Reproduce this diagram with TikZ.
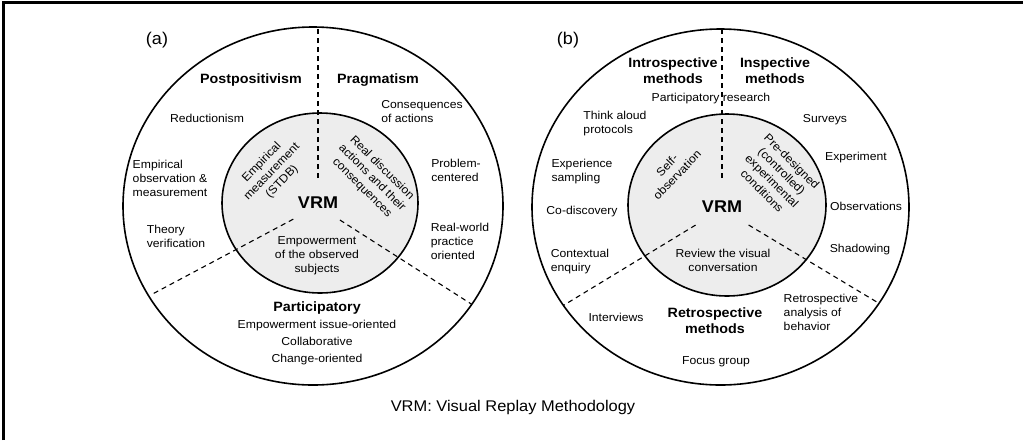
\documentclass[tikz,border=0pt]{standalone}
\usepackage{fontspec}
\setmainfont{Liberation Sans}[FakeStretch=1.06]
\definecolor{innergrey}{HTML}{EDEDED}
\begin{document}
\begin{tikzpicture}[x=1pt, y=1pt,
    txt/.style={font=\fontsize{11.5}{14}\selectfont, align=left, inner sep=0pt},
    ctr/.style={txt, align=center},
    head/.style={font=\fontsize{13.5}{16}\selectfont\bfseries, align=center, inner sep=0pt},
    vrm/.style={font=\fontsize{17}{20}\selectfont\bfseries, inner sep=0pt},
    panel/.style={font=\fontsize{17}{20}\selectfont, inner sep=0pt},
    ring/.style={line width=1.6pt},
    divider/.style={dash pattern=on 5pt off 4pt, line width=1.1pt}]
  \useasboundingbox (0,0) rectangle (1023,-440);
  \draw[line width=3pt] (3,-440) -- (3,-2) -- (1023,-2);

  % (a)
  \node[panel] (lbla) at (157,-40) {(a)};
  \draw[ring] (313,-206) ellipse [x radius=190pt, y radius=179pt];
  \draw[ring, fill=innergrey] (320,-203) ellipse [x radius=98pt, y radius=90pt];
  \coordinate (ca) at (318,-206);
  \coordinate (ta1) at (318,-27);
  \path (ca) ++(90:28pt) coordinate (ta0);
  \path (ca) ++(208:28pt) coordinate (la0) (ca) ++(208:189pt) coordinate (la1);
  \path (ca) ++(-32.6:26pt) coordinate (ra0) (ca) ++(-32.6:182pt) coordinate (ra1);
  \draw[divider] (ta0) -- (ta1);
  \draw[divider] (la0) -- (la1);
  \draw[divider] (ra0) -- (ra1);
  \node[head] (post) at (251,-80) {Postpositivism};
  \node[head] (prag) at (378,-80) {Pragmatism};
  \node[txt] (reduc) at (207,-118) {Reductionism};
  \node[txt] (conseq) at (422,-112) {Consequences\\of actions};
  \node[txt] (empobs) at (170,-178) {Empirical\\observation \&\\measurement};
  \node[txt] (theory) at (176,-236) {Theory\\verification};
  \node[txt] (problem) at (456,-170) {Problem-\\centered};
  \node[txt] (realw) at (460,-241) {Real-world\\practice\\oriented};
  \node[ctr, rotate=46] (empmeas) at (272,-172) {Empirical\\measurement\\(STDB)};
  \node[ctr, rotate=-45] (realdisc) at (372,-178) {Real discussion\\actions and their\\consequences};
  \node[vrm] (vrma) at (318,-203) {VRM};
  \node[ctr] (empow) at (317,-256) {Empowerment\\of the observed\\subjects};
  \node[head] (partic) at (317,-308) {Participatory};
  \node[ctr, font=\fontsize{11.5}{17}\selectfont] (partlist) at (317,-343)
    {Empowerment issue-oriented\\Collaborative\\Change-oriented};

  % (b)
  \node[panel] (lblb) at (568,-40) {(b)};
  \draw[ring] (720.5,-207) ellipse [x radius=188.5pt, y radius=178pt];
  \draw[ring, fill=innergrey] (727,-205) ellipse [x radius=99pt, y radius=91pt];
  \coordinate (cb) at (722,-209);
  \coordinate (tb1) at (722,-29);
  \path (cb) ++(90:31pt) coordinate (tb0);
  \path (cb) ++(211.3:31pt) coordinate (lb0) (cb) ++(211.3:185.6pt) coordinate (lb1);
  \path (cb) ++(-31:31pt) coordinate (rb0) (cb) ++(-31:183.4pt) coordinate (rb1);
  \draw[divider] (tb0) -- (tb1);
  \draw[divider] (lb0) -- (lb1);
  \draw[divider] (rb0) -- (rb1);
  \node[head] (intro) at (673,-71) {Introspective\\methods};
  \node[head] (insp) at (775,-71) {Inspective\\methods};
  \node[txt] (partres) at (711,-99) {Participatory research};
  \node[txt] (think) at (615,-124) {Think aloud\\protocols};
  \node[txt] (surv) at (825,-120) {Surveys};
  \node[txt] (exper) at (856,-158) {Experiment};
  \node[txt] (sampl) at (582,-172) {Experience\\sampling};
  \node[txt] (codisc) at (582,-212) {Co-discovery};
  \node[txt] (context) at (580,-262) {Contextual\\enquiry};
  \node[txt] (observ) at (866,-206) {Observations};
  \node[txt] (shadow) at (860,-250) {Shadowing};
  \node[ctr, rotate=46] (selfobs) at (672,-170) {Self-\\observation};
  \node[ctr, rotate=-45] (predes) at (777,-176) {Pre-designed\\(controlled)\\experimental\\conditions};
  \node[vrm] (vrmb) at (722,-207) {VRM};
  \node[ctr] (review) at (723,-260) {Review the visual\\conversation};
  \node[head] (retro) at (715,-321) {Retrospective\\methods};
  \node[txt] (interv) at (616,-317) {Interviews};
  \node[txt] (retana) at (821,-312) {Retrospective\\analysis of\\behavior};
  \node[txt] (focus) at (716,-362) {Focus group};

  \node[font=\fontsize{15.5}{18}\selectfont] (caption) at (513,-407) {VRM: Visual Replay Methodology};
\end{tikzpicture}
\end{document}
